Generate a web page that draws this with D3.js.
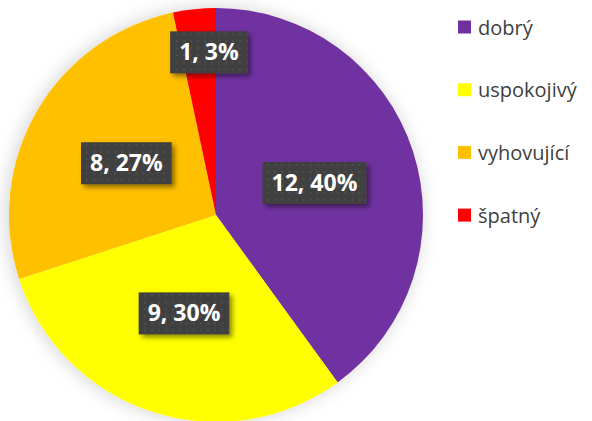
<!DOCTYPE html>
<html lang="cs">
<head>
<meta charset="UTF-8">
<title>Hodnocení</title>
<script src="https://d3js.org/d3.v7.min.js"></script>
<style>
    body { margin: 0; background: #ffffff; }
    svg { display: block; }
</style>
</head>
<body>
<div id="chart"></div>
<script>
    // data
    const categories = ['dobrý', 'uspokojivý', 'vyhovující', 'špatný'];
    const values = [12, 9, 8, 1];
    const colors = ['#7030A0', '#FFFF00', '#FFC000', '#FF0000'];

    const width = 592, height = 421;
    const cx = 216, cy = 215, radius = 207;

    const svg = d3.select('#chart').append('svg')
        .attr('width', width)
        .attr('height', height);

    const defs = svg.append('defs');

    // soft shadow around the pie
    const glow = defs.append('filter').attr('id', 'pieShadow')
        .attr('x', '-20%').attr('y', '-20%').attr('width', '140%').attr('height', '140%');
    glow.append('feDropShadow')
        .attr('dx', -2).attr('dy', 0).attr('stdDeviation', 9)
        .attr('flood-color', '#000').attr('flood-opacity', 0.18);

    // shadow under the label boxes
    const boxShadow = defs.append('filter').attr('id', 'boxShadow')
        .attr('x', '-20%').attr('y', '-30%').attr('width', '150%').attr('height', '170%');
    boxShadow.append('feDropShadow')
        .attr('dx', 3).attr('dy', 3).attr('stdDeviation', 2.5)
        .attr('flood-color', '#000').attr('flood-opacity', 0.45);

    // dotted texture for the label boxes
    const pat = defs.append('pattern').attr('id', 'dots')
        .attr('width', 7).attr('height', 7).attr('patternUnits', 'userSpaceOnUse');
    pat.append('rect').attr('width', 7).attr('height', 7).attr('fill', '#404040');
    pat.append('rect').attr('x', 2).attr('y', 2).attr('width', 2).attr('height', 2).attr('fill', '#4e4e4e');

    const total = d3.sum(values);
    const pie = d3.pie().sort(null).value(d => d);
    const arcs = pie(values);

    const arc = d3.arc().innerRadius(0).outerRadius(radius);
    const labelArc = d3.arc().innerRadius(radius * 0.5).outerRadius(radius * 0.5);
    const outerLabelArc = d3.arc().innerRadius(radius * 0.79).outerRadius(radius * 0.79);

    const g = svg.append('g').attr('transform', `translate(${cx},${cy})`);

    g.append('g').attr('filter', 'url(#pieShadow)')
        .selectAll('path')
        .data(arcs)
        .enter()
        .append('path')
        .attr('d', arc)
        .attr('fill', (d, i) => colors[i]);

    // data labels
    arcs.forEach((d, i) => {
        const share = d.value / total;
        let [x, y] = share < 0.05 ? outerLabelArc.centroid(d) : labelArc.centroid(d);
        if (share < 0.05) x += 10;
        const txt = `${d.value}, ${Math.round(share * 100)}%`;

        const lg = g.append('g').attr('transform', `translate(${x},${y})`);
        const box = lg.append('rect');
        const t = lg.append('text')
            .attr('text-anchor', 'middle')
            .attr('y', 8)
            .attr('font-family', "'Open Sans', sans-serif")
            .attr('font-weight', 'bold')
            .attr('font-size', '23px')
            .attr('fill', '#ffffff')
            .text(txt);
        const w = t.node().getComputedTextLength() + 18;
        const h = 42;
        box.attr('x', -w / 2).attr('y', -h / 2)
            .attr('width', w).attr('height', h)
            .attr('fill', 'url(#dots)')
            .attr('filter', 'url(#boxShadow)');
    });

    // legend
    const legend = svg.append('g').attr('transform', 'translate(458,27)');
    const rows = legend.selectAll('g')
        .data(categories)
        .enter()
        .append('g')
        .attr('transform', (d, i) => `translate(0,${i * 62.7})`);

    rows.append('rect')
        .attr('x', 0).attr('y', -6.5)
        .attr('width', 13).attr('height', 13)
        .attr('fill', (d, i) => colors[i]);

    rows.append('text')
        .attr('x', 20).attr('y', 7.5)
        .attr('font-family', "'Open Sans', sans-serif")
        .attr('font-size', '20px')
        .attr('fill', '#404040')
        .text(d => d);
</script>
</body>
</html>
